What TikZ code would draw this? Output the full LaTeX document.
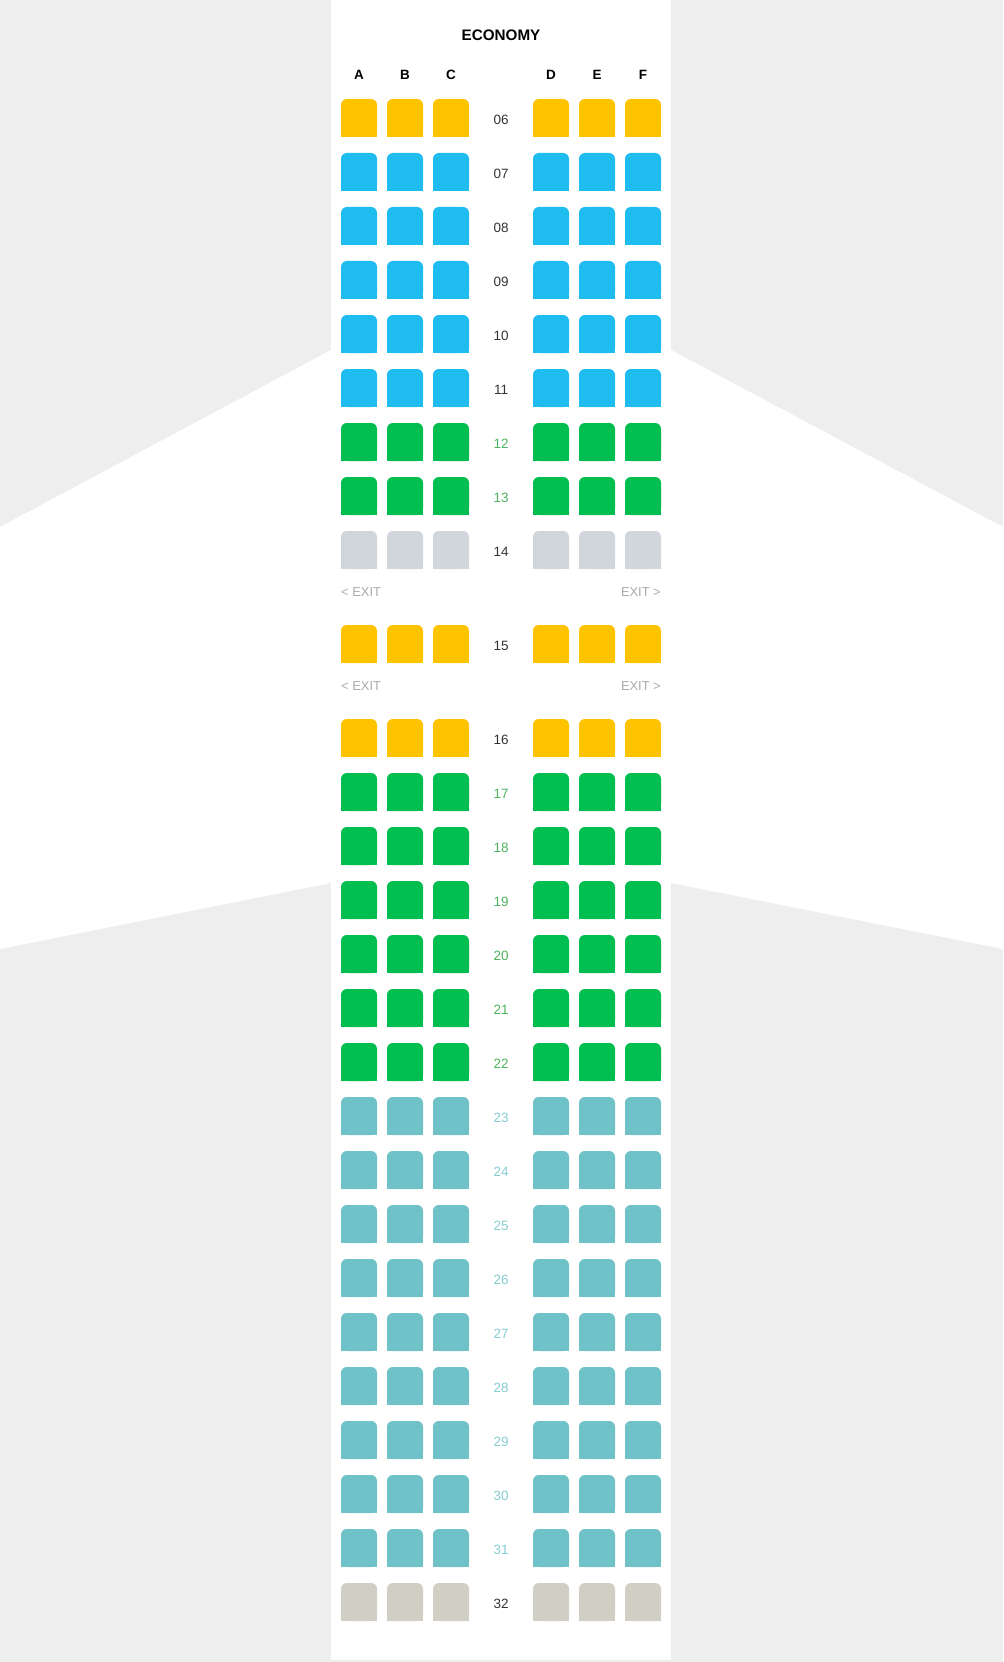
\documentclass[tikz,border=0pt]{standalone}
\usepackage{fontspec}
\setmainfont{Liberation Sans}
\usepackage{tikz}
\usetikzlibrary{positioning}
\usepackage{xcolor}
\definecolor{bgGray}{HTML}{EEEEEE}
\definecolor{seatYellow}{HTML}{FFC300}
\definecolor{seatBlue}{HTML}{1FBDEF}
\definecolor{seatGreen}{HTML}{00BF50}
\definecolor{seatGray}{HTML}{D0D6DC}
\definecolor{seatTeal}{HTML}{6FC3C8}
\definecolor{seatBeige}{HTML}{D1CFC4}
\definecolor{txtDark}{HTML}{333333}
\definecolor{txtGreen}{HTML}{4DB35E}
\definecolor{txtTeal}{HTML}{86CCD3}
\definecolor{txtExit}{HTML}{AAAAAA}

\begin{document}
\begin{tikzpicture}[
  x=0.03cm, y=-0.03cm,
  every node/.style={inner sep=0pt},
  title/.style={font=\fontsize{13}{15}\selectfont\bfseries,text=black},
  collbl/.style={font=\fontsize{11.5}{13}\selectfont\bfseries,text=black},
  rownum/.style={font=\fontsize{11.5}{13}\selectfont},
  exitlbl/.style={font=\fontsize{11}{13}\selectfont,text=txtExit}
]
\useasboundingbox (0,0) rectangle (1003,1662);
\fill[bgGray] (0,0) rectangle (1003,1662);
% wings and fuselage
\fill[white] (331,350) -- (0,527) -- (0,949) -- (331,883) -- cycle;
\fill[white] (671,350) -- (1003,527) -- (1003,949) -- (671,883) -- cycle;
\fill[white] (331,0) rectangle (671,1660);

\node[title] (cabin) at (501,35) {ECONOMY};
\foreach \s/\x in {A/341,B/387,C/433,D/533,E/579,F/625}
  \node[collbl] (h\s) at (\x+18,75) {\s};

% rows: number / top / seat colour / number colour
\foreach \r/\t/\c/\tc in {06/99/seatYellow/txtDark, 07/153/seatBlue/txtDark,
    08/207/seatBlue/txtDark, 09/261/seatBlue/txtDark, 10/315/seatBlue/txtDark,
    11/369/seatBlue/txtDark, 12/423/seatGreen/txtGreen, 13/477/seatGreen/txtGreen,
    14/531/seatGray/txtDark, 15/625/seatYellow/txtDark, 16/719/seatYellow/txtDark,
    17/773/seatGreen/txtGreen, 18/827/seatGreen/txtGreen, 19/881/seatGreen/txtGreen,
    20/935/seatGreen/txtGreen, 21/989/seatGreen/txtGreen, 22/1043/seatGreen/txtGreen,
    23/1097/seatTeal/txtTeal, 24/1151/seatTeal/txtTeal, 25/1205/seatTeal/txtTeal,
    26/1259/seatTeal/txtTeal, 27/1313/seatTeal/txtTeal, 28/1367/seatTeal/txtTeal,
    29/1421/seatTeal/txtTeal, 30/1475/seatTeal/txtTeal, 31/1529/seatTeal/txtTeal,
    32/1583/seatBeige/txtDark}{
  \foreach \x in {341,387,433,533,579,625}{
    \fill[\c,rounded corners=5pt] (\x,\t) rectangle ++(36,38);
    \fill[\c] (\x,\t+12) rectangle ++(36,26);
  }
  \node[rownum,text=\tc] (r\r) at (501,\t+20.5) {\r};
}

\node[exitlbl,anchor=west] (exitL1) at (341,592.5) {< EXIT};
\node[exitlbl,anchor=east] (exitR1) at (661,592.5) {EXIT >};
\node[exitlbl,anchor=west] (exitL2) at (341,686.5) {< EXIT};
\node[exitlbl,anchor=east] (exitR2) at (661,686.5) {EXIT >};
\end{tikzpicture}
\end{document}
